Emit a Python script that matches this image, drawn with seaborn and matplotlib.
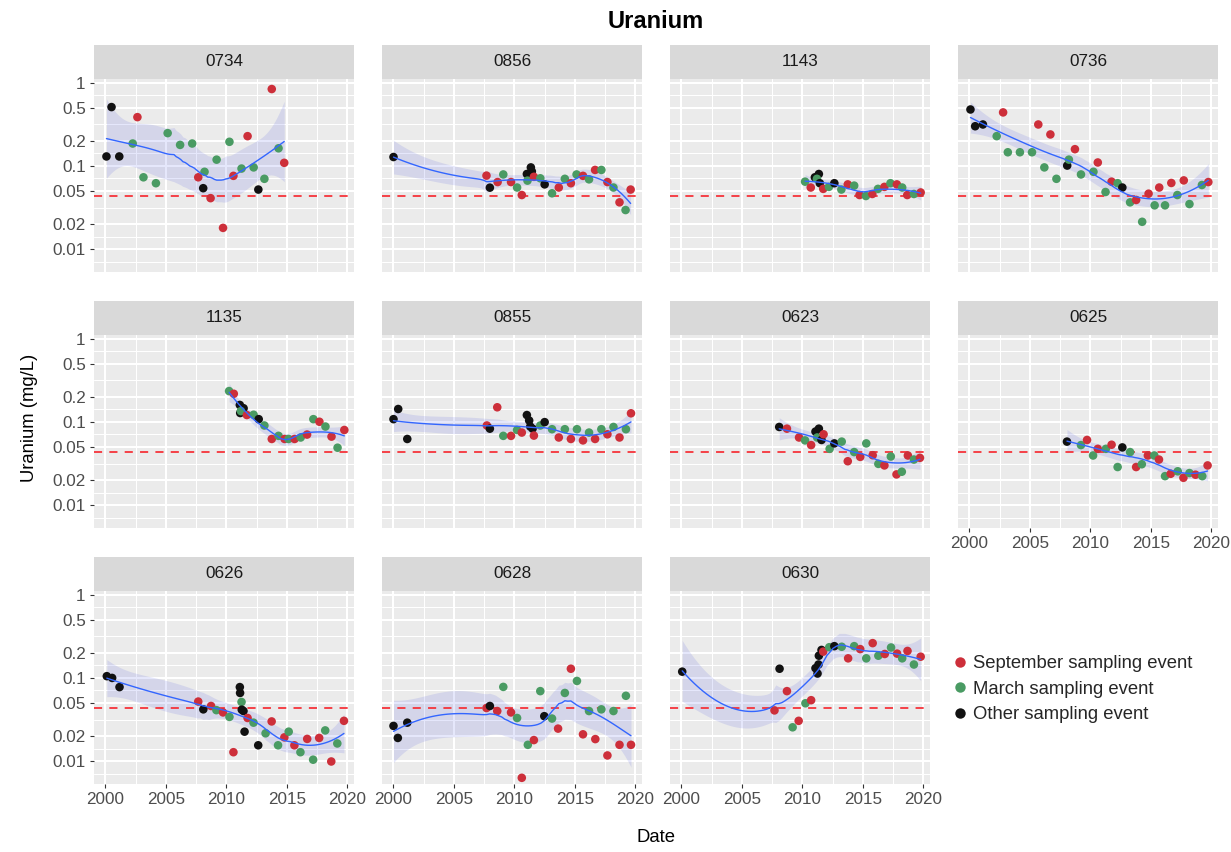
import numpy as np
import pandas as pd
import matplotlib
matplotlib.use("Agg")
import matplotlib.pyplot as plt
from matplotlib.lines import Line2D
from matplotlib.ticker import NullFormatter
import seaborn as sns

sns.set_theme(style="darkgrid")
plt.rcParams["font.family"] = ["Liberation Sans", "DejaVu Sans"]

# ---------------------------------------------------------------------------
# Uranium results per well: decimal-year date, concentration (mg/L), event
# S = September sampling, M = March sampling, O = other sampling event
# ---------------------------------------------------------------------------
w0734_date = [2000.08, 2000.5, 2001.14, 2002.64, 2002.25, 2003.14, 2004.17, 2005.14, 2006.17,
              2007.17, 2007.67, 2008.08, 2008.19, 2008.69, 2009.19, 2009.72, 2010.25, 2010.58,
              2011.25, 2011.75, 2012.25, 2012.64, 2013.14, 2013.75, 2014.31, 2014.78]
w0734_conc = [0.13, 0.51, 0.13, 0.386, 0.186, 0.073, 0.062, 0.248, 0.179,
              0.186, 0.073, 0.054, 0.085, 0.041, 0.119, 0.018, 0.195, 0.076,
              0.093, 0.228, 0.096, 0.052, 0.070, 0.84, 0.163, 0.109]
w0734_event = ["O", "O", "O", "S", "M", "M", "M", "M", "M",
               "M", "S", "O", "M", "S", "M", "S", "M", "S",
               "M", "S", "M", "O", "M", "S", "M", "S"]

w0856_date = [2000.0, 2007.69, 2007.97, 2008.61, 2009.08, 2009.72, 2010.22, 2010.61, 2011.03,
              2011.36, 2011.44, 2011.08, 2011.61, 2012.14, 2012.5, 2013.11, 2013.67, 2014.17,
              2014.67, 2015.14, 2015.67, 2016.17, 2016.67, 2017.19, 2017.69, 2018.19, 2018.69,
              2019.19, 2019.61]
w0856_conc = [0.128, 0.0765, 0.0548, 0.064, 0.079, 0.064, 0.055, 0.0447, 0.08,
              0.096, 0.086, 0.0666, 0.074, 0.071, 0.060, 0.0469, 0.055, 0.070,
              0.062, 0.079, 0.076, 0.069, 0.0895, 0.0895, 0.064, 0.055, 0.0365,
              0.0295, 0.052]
w0856_event = ["O", "S", "O", "S", "M", "S", "M", "S", "O",
               "O", "O", "M", "S", "M", "O", "M", "S", "M",
               "S", "M", "S", "M", "S", "M", "S", "M", "S",
               "M", "S"]

w1143_date = [2010.22, 2010.69, 2011.03, 2011.36, 2011.2, 2011.44, 2011.72, 2012.19, 2012.64,
              2013.22, 2013.75, 2014.28, 2014.72, 2015.25, 2015.78, 2016.25, 2016.78, 2017.28,
              2017.81, 2018.25, 2018.67, 2019.22, 2019.78]
w1143_conc = [0.0647, 0.055, 0.073, 0.080, 0.070, 0.062, 0.053, 0.056, 0.062,
              0.052, 0.060, 0.058, 0.0447, 0.0435, 0.046, 0.053, 0.056, 0.062,
              0.060, 0.055, 0.0447, 0.046, 0.048]
w1143_event = ["M", "S", "O", "O", "M", "O", "S", "M", "O",
               "M", "S", "M", "S", "M", "S", "M", "S", "M",
               "S", "M", "S", "M", "S"]

w0736_date = [2000.08, 2000.47, 2001.11, 2002.78, 2002.25, 2003.17, 2004.17, 2005.17, 2005.69,
              2006.69, 2006.19, 2007.19, 2008.72, 2008.08, 2008.22, 2009.22, 2010.61, 2010.25,
              2011.25, 2011.75, 2012.25, 2012.64, 2013.28, 2013.78, 2014.28, 2014.81, 2015.31,
              2015.69, 2016.17, 2016.69, 2017.19, 2017.72, 2018.19, 2019.22, 2019.75]
w0736_conc = [0.477, 0.30, 0.315, 0.44, 0.228, 0.146, 0.146, 0.146, 0.315,
              0.239, 0.096, 0.070, 0.159, 0.101, 0.119, 0.079, 0.110, 0.085,
              0.0486, 0.0647, 0.062, 0.055, 0.0365, 0.039, 0.0213, 0.0464, 0.0336,
              0.055, 0.0336, 0.0624, 0.0447, 0.067, 0.0348, 0.059, 0.064]
w0736_event = ["O", "O", "O", "S", "M", "M", "M", "M", "S",
               "S", "M", "M", "S", "O", "M", "M", "S", "M",
               "M", "S", "M", "O", "M", "S", "M", "S", "M",
               "S", "M", "S", "M", "S", "M", "M", "S"]

w1135_date = [2010.22, 2010.61, 2011.14, 2011.11, 2011.42, 2011.2, 2011.69, 2012.25, 2012.67,
              2013.14, 2013.75, 2014.31, 2014.81, 2015.14, 2015.64, 2016.14, 2016.67, 2017.19,
              2017.69, 2018.19, 2018.69, 2019.19, 2019.75]
w1135_conc = [0.235, 0.218, 0.128, 0.16, 0.146, 0.135, 0.121, 0.122, 0.108,
              0.0906, 0.0624, 0.068, 0.0624, 0.0624, 0.0624, 0.065, 0.0705, 0.108,
              0.1005, 0.088, 0.0666, 0.049, 0.080]
w1135_event = ["M", "S", "O", "O", "O", "M", "S", "M", "O",
               "M", "S", "M", "S", "M", "S", "M", "S", "M",
               "S", "M", "S", "M", "S"]

w0855_date = [2000.0, 2000.39, 2001.14, 2008.58, 2007.72, 2007.97, 2009.08, 2009.72, 2010.22,
              2010.61, 2011.03, 2011.22, 2011.31, 2011.5, 2011.61, 2012.14, 2012.5, 2013.11,
              2013.67, 2014.17, 2014.67, 2015.17, 2015.67, 2016.17, 2016.67, 2017.19, 2017.69,
              2018.19, 2018.69, 2019.22, 2019.64]
w0855_conc = [0.108, 0.143, 0.0624, 0.150, 0.0906, 0.083, 0.068, 0.068, 0.080,
              0.0745, 0.121, 0.104, 0.088, 0.083, 0.0685, 0.0906, 0.0995, 0.0818,
              0.065, 0.0818, 0.0624, 0.0818, 0.060, 0.0745, 0.0624, 0.0818, 0.071,
              0.087, 0.065, 0.0818, 0.127]
w0855_event = ["O", "O", "O", "S", "S", "O", "M", "S", "M",
               "S", "O", "O", "O", "O", "S", "M", "O", "M",
               "S", "M", "S", "M", "S", "M", "S", "M", "S",
               "M", "S", "M", "S"]

w0623_date = [2008.08, 2008.72, 2009.72, 2010.22, 2010.72, 2011.08, 2011.36, 2011.22, 2011.58,
              2011.75, 2012.25, 2012.64, 2013.25, 2013.75, 2014.28, 2015.28, 2014.78, 2015.81,
              2016.28, 2016.78, 2017.31, 2017.78, 2018.22, 2018.72, 2019.22, 2019.72]
w0623_conc = [0.087, 0.083, 0.065, 0.060, 0.0527, 0.0766, 0.083, 0.065, 0.0607,
              0.071, 0.0475, 0.0552, 0.058, 0.0337, 0.0434, 0.0552, 0.038, 0.0398,
              0.0313, 0.030, 0.0384, 0.0234, 0.0252, 0.0395, 0.0353, 0.037]
w0623_event = ["O", "S", "S", "M", "S", "O", "O", "M", "O",
               "S", "M", "O", "M", "S", "M", "M", "S", "S",
               "M", "S", "M", "S", "M", "S", "M", "S"]

w0625_date = [2008.06, 2009.22, 2009.72, 2010.22, 2010.61, 2011.28, 2011.75, 2012.25, 2012.64,
              2013.28, 2013.78, 2014.25, 2014.75, 2015.28, 2015.67, 2016.17, 2016.64, 2017.22,
              2017.69, 2018.19, 2018.69, 2019.25, 2019.69]
w0625_conc = [0.058, 0.0527, 0.0607, 0.0395, 0.0475, 0.0475, 0.0532, 0.0287, 0.0494,
              0.0434, 0.0287, 0.031, 0.0395, 0.0395, 0.0353, 0.0223, 0.0238, 0.0255,
              0.0213, 0.0243, 0.0232, 0.0223, 0.030]
w0625_event = ["O", "M", "S", "M", "S", "M", "S", "M", "O",
               "M", "S", "M", "S", "M", "S", "M", "S", "M",
               "S", "M", "S", "M", "S"]

w0626_date = [2000.11, 2000.55, 2001.16, 2007.67, 2008.09, 2008.73, 2009.17, 2009.72, 2010.25,
              2010.58, 2011.11, 2011.13, 2011.25, 2011.27, 2011.41, 2011.5, 2011.75, 2012.24,
              2012.63, 2013.24, 2013.74, 2014.27, 2014.79, 2015.15, 2015.62, 2016.12, 2016.68,
              2017.17, 2017.67, 2018.17, 2018.67, 2019.17, 2019.72]
w0626_conc = [0.105, 0.100, 0.0776, 0.052, 0.0419, 0.046, 0.041, 0.0385, 0.034,
              0.0128, 0.0776, 0.066, 0.0514, 0.0415, 0.040, 0.0226, 0.033, 0.029,
              0.0155, 0.0216, 0.030, 0.0155, 0.0193, 0.0226, 0.0155, 0.0128, 0.0185,
              0.0104, 0.019, 0.0234, 0.0099, 0.0163, 0.0305]
w0626_event = ["O", "O", "O", "S", "O", "S", "M", "S", "M",
               "S", "O", "O", "M", "O", "O", "O", "S", "M",
               "O", "M", "S", "M", "S", "M", "S", "M", "S",
               "M", "S", "M", "S", "M", "S"]

w0628_date = [2000.0, 2000.36, 2001.14, 2007.69, 2007.97, 2008.58, 2009.08, 2009.72, 2010.22,
              2010.61, 2011.11, 2011.61, 2012.14, 2012.47, 2013.11, 2013.61, 2014.17, 2014.67,
              2015.17, 2015.67, 2016.17, 2016.69, 2017.19, 2017.69, 2018.19, 2018.69, 2019.22,
              2019.64]
w0628_conc = [0.0265, 0.019, 0.029, 0.0435, 0.046, 0.040, 0.078, 0.0385, 0.033,
              0.0063, 0.0157, 0.0179, 0.0694, 0.0347, 0.0325, 0.0246, 0.066, 0.129,
              0.092, 0.021, 0.040, 0.0184, 0.0419, 0.0117, 0.040, 0.0157, 0.061,
              0.0157]
w0628_event = ["O", "O", "O", "S", "O", "S", "M", "S", "M",
               "S", "M", "S", "M", "O", "M", "S", "M", "S",
               "M", "S", "M", "S", "M", "S", "M", "S", "M",
               "S"]

w0630_date = [2000.06, 2008.11, 2007.69, 2008.72, 2009.19, 2009.69, 2010.25, 2010.72, 2011.08,
              2011.25, 2011.33, 2011.36, 2011.58, 2011.72, 2012.22, 2012.64, 2013.25, 2013.78,
              2014.28, 2014.78, 2015.28, 2015.81, 2016.28, 2016.81, 2017.33, 2017.83, 2018.25,
              2018.69, 2019.22, 2019.78]
w0630_conc = [0.119, 0.129, 0.0407, 0.0694, 0.0255, 0.0305, 0.0496, 0.054, 0.131,
              0.113, 0.145, 0.185, 0.217, 0.207, 0.234, 0.241, 0.237, 0.172,
              0.241, 0.222, 0.172, 0.262, 0.185, 0.194, 0.232, 0.196, 0.172,
              0.211, 0.145, 0.180]
w0630_event = ["O", "O", "S", "S", "M", "S", "M", "S", "O",
               "O", "O", "O", "O", "S", "M", "O", "M", "S",
               "M", "S", "M", "S", "M", "S", "M", "S", "M",
               "S", "M", "S"]

wells = ["0734", "0856", "1143", "0736", "1135", "0855", "0623", "0625", "0626", "0628", "0630"]
well_data = {
    "0734": (w0734_date, w0734_conc, w0734_event),
    "0856": (w0856_date, w0856_conc, w0856_event),
    "1143": (w1143_date, w1143_conc, w1143_event),
    "0736": (w0736_date, w0736_conc, w0736_event),
    "1135": (w1135_date, w1135_conc, w1135_event),
    "0855": (w0855_date, w0855_conc, w0855_event),
    "0623": (w0623_date, w0623_conc, w0623_event),
    "0625": (w0625_date, w0625_conc, w0625_event),
    "0626": (w0626_date, w0626_conc, w0626_event),
    "0628": (w0628_date, w0628_conc, w0628_event),
    "0630": (w0630_date, w0630_conc, w0630_event),
}

event_labels = {"S": "September sampling event", "M": "March sampling event", "O": "Other sampling event"}
event_order = ["September sampling event", "March sampling event", "Other sampling event"]
event_colors = ["#CD2F3A", "#4A9B63", "#111111"]
standard = 0.044  # uranium standard, mg/L

y_breaks = [0.01, 0.02, 0.05, 0.1, 0.2, 0.5, 1]
y_labels = ["0.01", "0.02", "0.05", "0.1", "0.2", "0.5", "1"]
x_breaks = [2000, 2005, 2010, 2015, 2020]
x_labels = ["2000", "2005", "2010", "2015", "2020"]

frames = []
for w in wells:
    d, c, e = well_data[w]
    frames.append(pd.DataFrame({"well": w, "date": d, "uranium": c,
                                "event": [event_labels[k] for k in e]}))
df = pd.concat(frames, ignore_index=True)


# ---------------------------------------------------------------------------
# local quadratic regression (loess, span 0.75) on log10 scale with 95% band
# ---------------------------------------------------------------------------
def _t975(nu):
    z = 1.959964
    return (z + (z**3 + z) / (4 * nu) + (5 * z**5 + 16 * z**3 + 3 * z) / (96 * nu**2)
            + (3 * z**7 + 19 * z**5 + 17 * z**3 - 15 * z) / (384 * nu**3))


def loess_band(x, y, xs, span=0.75):
    x = np.asarray(x, float)
    y = np.asarray(y, float)
    n = len(x)
    q = int(np.floor(n * span))

    def op_row(x0):
        d = np.abs(x - x0)
        h = max(np.sort(d)[q - 1], 1e-9)
        u = np.clip(d / h, 0, 1)
        wts = (1 - u**3) ** 3
        X = np.column_stack([np.ones(n), x - x0, (x - x0) ** 2])
        XtW = X.T * wts
        return (np.linalg.pinv(XtW @ X) @ XtW)[0]

    L = np.array([op_row(v) for v in x])
    M = np.eye(n) - L
    MM = M.T @ M
    d1 = np.trace(MM)
    d2 = np.trace(MM @ MM)
    resid = y - L @ y
    sigma = np.sqrt(np.sum(resid**2) / d1)
    Ls = np.array([op_row(v) for v in xs])
    fit = Ls @ y
    se = sigma * np.sqrt(np.sum(Ls**2, axis=1))
    t = _t975(d1**2 / d2)
    return fit, fit - t * se, fit + t * se


# ---------------------------------------------------------------------------
# figure layout (pixel based)
# ---------------------------------------------------------------------------
W, H = 1231, 852
fig = plt.figure(figsize=(W / 100, H / 100), dpi=100)
fig.patch.set_facecolor("white")

def px_axes(left, top, width, height):
    return fig.add_axes([left / W, 1 - (top + height) / H, width / W, height / H])

col_left = [94, 382, 670, 958]
row_top = [79, 335, 591]
pw, ph = 260, 193
strip_h = 34

xlim = (1999.05, 2020.55)
ylim = (10 ** -2.275, 10 ** 0.045)
y_minor = [10 ** -2.15, 10 ** -1.85, 10 ** -1.5, 10 ** -1.15, 10 ** -0.85, 10 ** -0.5, 10 ** -0.15]
x_minor = [2002.5, 2007.5, 2012.5, 2017.5]

for i, w in enumerate(wells):
    r, c = divmod(i, 4)
    ax = px_axes(col_left[c], row_top[r], pw, ph)
    ax.set_facecolor("#EBEBEB")
    for s in ax.spines.values():
        s.set_visible(False)

    sub = df[df["well"] == w]
    xs = np.linspace(sub["date"].min(), sub["date"].max(), 80)
    fit, lo, hi = loess_band(sub["date"].values, np.log10(sub["uranium"].values), xs)

    ax.fill_between(xs, 10 ** lo, 10 ** hi, color="#2E3BE0", alpha=0.12, linewidth=0, zorder=2)
    ax.axhline(standard, color="#F5343A", linewidth=1.3, linestyle=(0, (4.5, 4)), zorder=2.5)
    sns.scatterplot(data=sub, x="date", y="uranium", hue="event", hue_order=event_order,
                    palette=event_colors, s=38, edgecolor="none", linewidth=0,
                    legend=False, ax=ax, zorder=3)
    sns.lineplot(x=xs, y=10 ** fit, color="#3366FF", linewidth=1.0, ax=ax, zorder=4)
    ax.set_xlabel("")
    ax.set_ylabel("")

    ax.set_yscale("log")
    ax.set_xlim(*xlim)
    ax.set_ylim(*ylim)
    ax.set_yticks(y_breaks, y_labels)
    ax.set_yticks(y_minor, minor=True)
    ax.set_xticks(x_breaks, x_labels)
    ax.set_xticks(x_minor, minor=True)
    ax.yaxis.set_minor_formatter(NullFormatter())
    ax.xaxis.set_minor_formatter(NullFormatter())
    ax.grid(False)
    ax.grid(True, which="major", color="white", linewidth=1.45)
    ax.grid(True, which="minor", color="white", linewidth=0.75)
    ax.set_axisbelow(True)
    ax.tick_params(which="minor", length=0, labelleft=False, labelbottom=False)

    show_y = c == 0
    show_x = (r == 2) or (r == 1 and c == 3)
    ax.tick_params(axis="y", which="major", left=show_y, labelleft=show_y, length=3,
                   width=0.8, color="#333333", labelcolor="#4D4D4D", labelsize=12.3, pad=3)
    ax.tick_params(axis="x", which="major", bottom=show_x, labelbottom=show_x, length=3,
                   width=0.8, color="#333333", labelcolor="#4D4D4D", labelsize=12.3, pad=3)

    # facet strip
    sax = px_axes(col_left[c], row_top[r] - strip_h, pw, strip_h)
    sax.set_facecolor("#D9D9D9")
    for s in sax.spines.values():
        s.set_visible(False)
    sax.set_xticks([])
    sax.set_yticks([])
    sax.grid(False)
    sax.text(0.5, 0.5, w, ha="center", va="center", fontsize=12.3, color="#1A1A1A",
             transform=sax.transAxes)

# titles
fig.text(656 / W, 1 - 22 / H, "Uranium", ha="center", va="center", fontsize=17,
         fontweight="bold", color="black")
fig.text(656 / W, 1 - 838 / H, "Date", ha="center", va="center", fontsize=13.3, color="black")
fig.text(30 / W, 1 - 418 / H, "Uranium (mg/L)", ha="center", va="center", rotation=90,
         fontsize=13.3, color="black")

# legend
handles = [Line2D([], [], marker="o", linestyle="none", markersize=7.5,
                  markerfacecolor=col, markeredgecolor="none") for col in event_colors]
fig.legend(handles, event_order, loc="upper left", bbox_to_anchor=(943 / W, 1 - 648 / H),
           frameon=False, fontsize=13.3, handletextpad=0.25, labelspacing=0.45,
           handlelength=1.0, borderaxespad=0)

fig.savefig("out.png", dpi=100)
